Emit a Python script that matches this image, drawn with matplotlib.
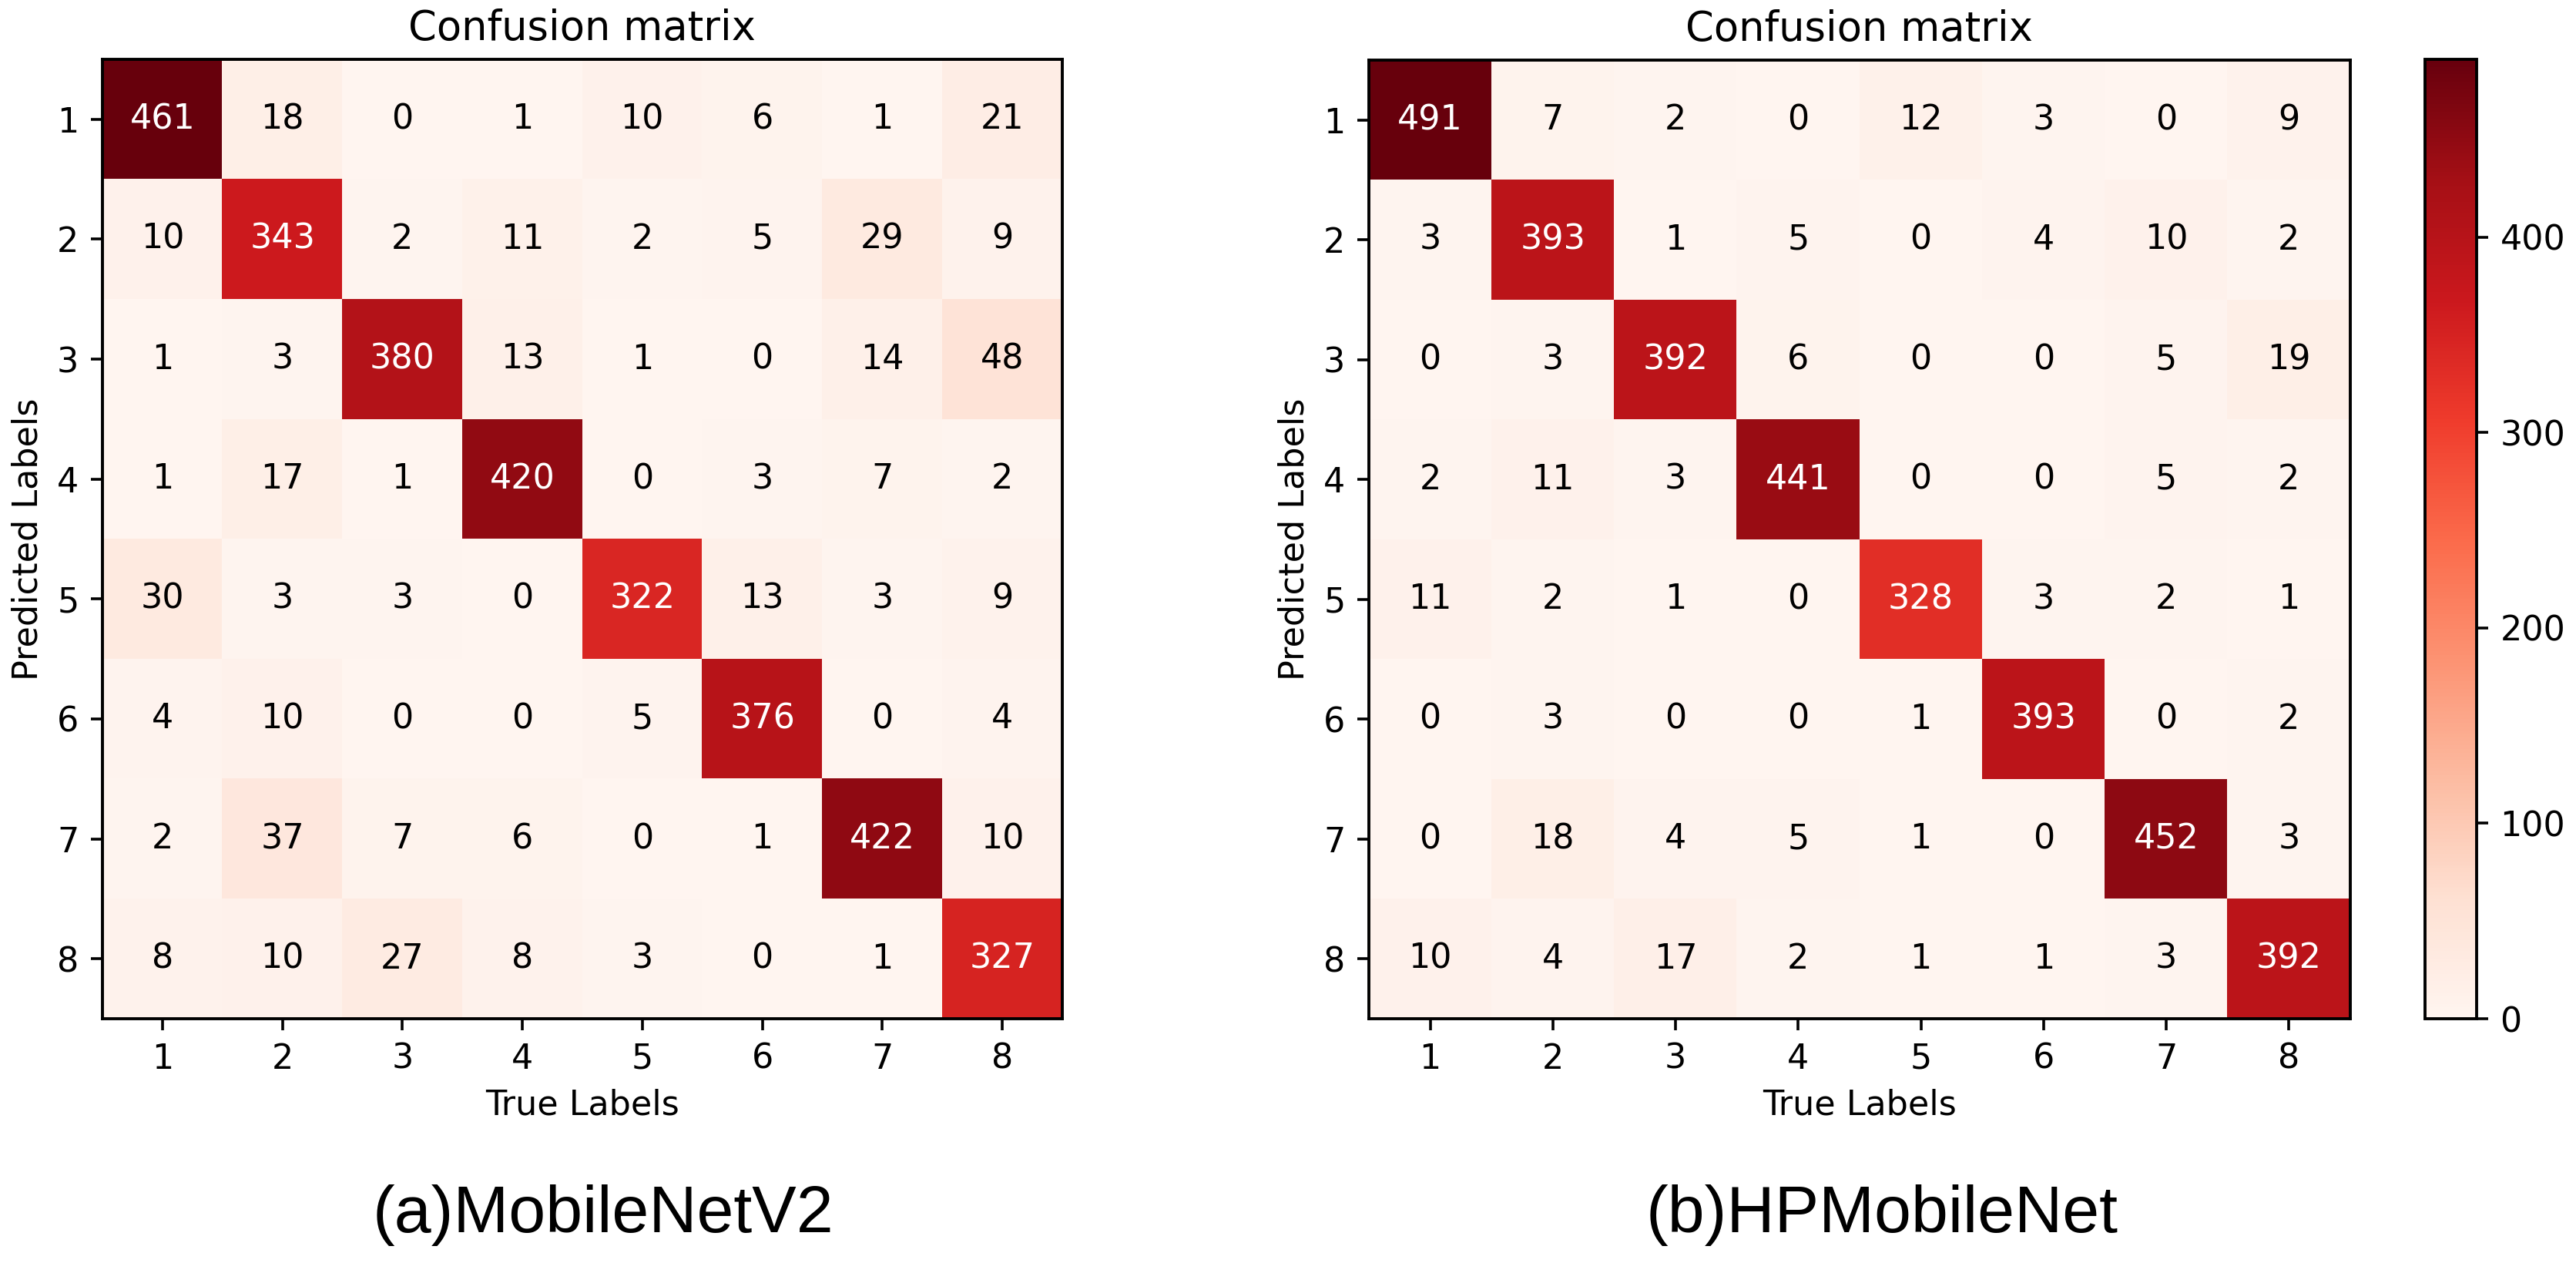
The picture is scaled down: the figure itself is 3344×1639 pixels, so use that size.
import numpy as np
import matplotlib
matplotlib.use("Agg")
import matplotlib.pyplot as plt

labels = ["1", "2", "3", "4", "5", "6", "7", "8"]

cm_mobilenetv2 = [
    [461, 18, 0, 1, 10, 6, 1, 21],
    [10, 343, 2, 11, 2, 5, 29, 9],
    [1, 3, 380, 13, 1, 0, 14, 48],
    [1, 17, 1, 420, 0, 3, 7, 2],
    [30, 3, 3, 0, 322, 13, 3, 9],
    [4, 10, 0, 0, 5, 376, 0, 4],
    [2, 37, 7, 6, 0, 1, 422, 10],
    [8, 10, 27, 8, 3, 0, 1, 327],
]

cm_hpmobilenet = [
    [491, 7, 2, 0, 12, 3, 0, 9],
    [3, 393, 1, 5, 0, 4, 10, 2],
    [0, 3, 392, 6, 0, 0, 5, 19],
    [2, 11, 3, 441, 0, 0, 5, 2],
    [11, 2, 1, 0, 328, 3, 2, 1],
    [0, 3, 0, 0, 1, 393, 0, 2],
    [0, 18, 4, 5, 1, 0, 452, 3],
    [10, 4, 17, 2, 1, 1, 3, 392],
]

captions = ["(a)MobileNetV2", "(b)HPMobileNet"]
cbar_ticks = [0, 100, 200, 300, 400]

W, H = 3344, 1639
DPI = 200
plt.rcParams["font.family"] = ["DejaVu Sans"]
fig = plt.figure(figsize=(W / DPI, H / DPI), dpi=DPI)

def px_axes(x0, y0, x1, y1):
    return fig.add_axes([x0 / W, (H - y1) / H, (x1 - x0) / W, (y1 - y0) / H])

ax1 = px_axes(133, 77, 1379, 1322)
ax2 = px_axes(1777, 78, 3051, 1322)
cax = px_axes(3148, 77, 3215, 1322)

FS = 16

def draw(ax, data):
    m = np.array(data)
    im = ax.imshow(m, cmap="Reds", vmin=0, vmax=m.max(), aspect="auto",
                   interpolation="nearest")
    thr = m.max() / 2.0
    for i in range(m.shape[0]):
        for j in range(m.shape[1]):
            ax.text(j, i, str(m[i, j]), ha="center", va="center", fontsize=FS,
                    color="white" if m[i, j] > thr else "black")
    ax.set_xticks(range(len(labels)))
    ax.set_xticklabels(labels)
    ax.set_yticks(range(len(labels)))
    ax.set_yticklabels(labels)
    ax.tick_params(labelsize=FS, length=5.5, width=1.3, pad=5.5)
    for s in ax.spines.values():
        s.set_linewidth(1.4)
    ax.set_title("Confusion matrix", fontsize=19, pad=9)
    ax.set_xlabel("True Labels", fontsize=FS, labelpad=6)
    ax.set_ylabel("Predicted Labels", fontsize=FS, labelpad=6)
    return im

draw(ax1, cm_mobilenetv2)
im2 = draw(ax2, cm_hpmobilenet)

cb = fig.colorbar(im2, cax=cax)
cb.set_ticks(cbar_ticks)
cb.ax.tick_params(labelsize=FS, length=5.5, width=1.3, pad=5.5)
cb.outline.set_linewidth(1.4)

fig.text(783 / W, (H - 1599) / H, captions[0], ha="center", va="baseline",
         fontsize=31, family=["Liberation Sans", "DejaVu Sans"])
fig.text(2443 / W, (H - 1599) / H, captions[1], ha="center", va="baseline",
         fontsize=31, family=["Liberation Sans", "DejaVu Sans"])

fig.savefig("out.png", dpi=DPI)
